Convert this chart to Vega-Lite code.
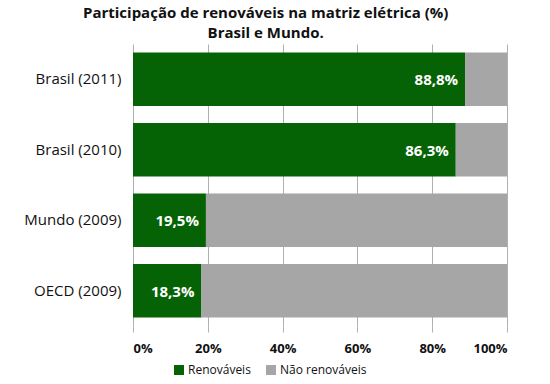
{
  "$schema": "https://vega.github.io/schema/vega-lite/v6.json",
  "width": 374,
  "height": 282,
  "autosize": {"type": "none"},
  "padding": {"left": 133, "top": 44, "right": 43, "bottom": 58},
  "background": "white",
  "title": {
    "text": ["Participação de renováveis na matriz elétrica (%)", "Brasil e Mundo."],
    "font": "Open Sans",
    "fontSize": 15,
    "fontWeight": "bold",
    "color": "#111111",
    "anchor": "middle",
    "frame": "bounds",
    "offset": 3,
    "lineHeight": 20
  },
  "config": {
    "view": {"stroke": null},
    "locale": {
      "number": {"decimal": ",", "thousands": ".", "grouping": [3], "currency": ["R$", ""]}
    }
  },
  "data": {
    "values": [
      {"pais": "Brasil (2011)", "tipo": "Renováveis", "ordem": 1, "valor": 0.888},
      {"pais": "Brasil (2011)", "tipo": "Não renováveis", "ordem": 2, "valor": 0.112},
      {"pais": "Brasil (2010)", "tipo": "Renováveis", "ordem": 1, "valor": 0.863},
      {"pais": "Brasil (2010)", "tipo": "Não renováveis", "ordem": 2, "valor": 0.137},
      {"pais": "Mundo (2009)", "tipo": "Renováveis", "ordem": 1, "valor": 0.195},
      {"pais": "Mundo (2009)", "tipo": "Não renováveis", "ordem": 2, "valor": 0.805},
      {"pais": "OECD (2009)", "tipo": "Renováveis", "ordem": 1, "valor": 0.183},
      {"pais": "OECD (2009)", "tipo": "Não renováveis", "ordem": 2, "valor": 0.817}
    ]
  },
  "encoding": {
    "y": {
      "field": "pais",
      "type": "nominal",
      "sort": ["Brasil (2011)", "Brasil (2010)", "Mundo (2009)", "OECD (2009)"],
      "scale": {"paddingInner": 0.24, "paddingOuter": 0.12},
      "axis": {
        "title": null,
        "domain": false,
        "ticks": false,
        "labelFont": "Open Sans",
        "labelFontSize": 15,
        "labelColor": "#111111",
        "labelPadding": 12
      }
    }
  },
  "layer": [
    {
      "mark": {"type": "bar"},
      "encoding": {
        "x": {
          "field": "valor",
          "type": "quantitative",
          "stack": "zero",
          "scale": {"domain": [0, 1]},
          "axis": {
            "title": null,
            "format": "%",
            "values": [0, 0.2, 0.4, 0.6, 0.8, 1],
            "domain": false,
            "grid": true,
            "gridColor": "#B0B0B0",
            "tickColor": "#B0B0B0",
            "tickSize": 6,
            "labelFont": "Open Sans",
            "labelFontSize": 13,
            "labelFontWeight": "bold",
            "labelColor": "#111111",
            "labelPadding": 10
          }
        },
        "color": {
          "field": "tipo",
          "type": "nominal",
          "sort": ["Renováveis", "Não renováveis"],
          "scale": {"domain": ["Renováveis", "Não renováveis"], "range": ["#056205", "#A6A6A6"]},
          "legend": {
            "title": null,
            "orient": "none",
            "legendX": 40,
            "legendY": 320,
            "direction": "horizontal",
            "symbolType": "square",
            "symbolSize": 100,
            "symbolStrokeWidth": 0,
            "labelFont": "Open Sans",
            "labelFontSize": 12,
            "labelColor": "#111111",
            "columnPadding": 14,
            "labelOffset": 3
          }
        },
        "order": {"field": "ordem", "type": "quantitative"}
      }
    },
    {
      "transform": [{"filter": "datum.tipo === 'Renováveis'"}],
      "mark": {
        "type": "text",
        "align": "right",
        "baseline": "middle",
        "dx": -7,
        "dy": 1,
        "font": "Open Sans",
        "fontSize": 15,
        "fontWeight": "bold",
        "color": "white"
      },
      "encoding": {
        "x": {"field": "valor", "type": "quantitative"},
        "text": {"field": "valor", "type": "quantitative", "format": ".1%"}
      }
    }
  ]
}
